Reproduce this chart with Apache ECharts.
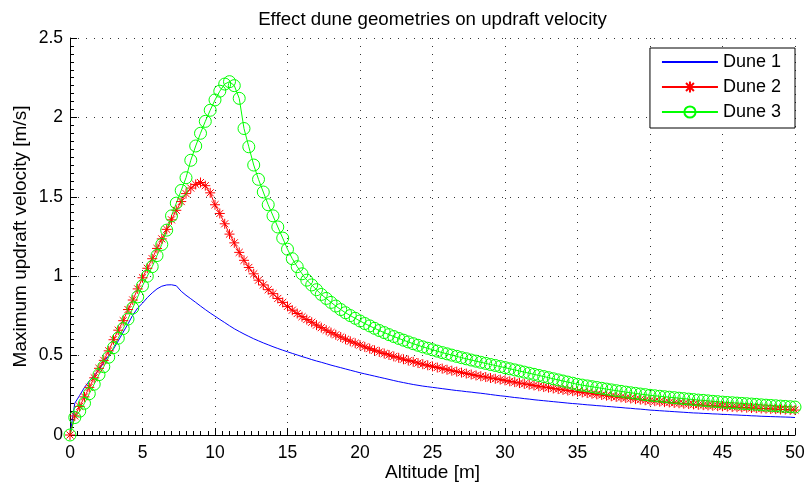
<!DOCTYPE html>
<html>
<head>
<meta charset="utf-8">
<script src="https://cdn.jsdelivr.net/npm/echarts@6/dist/echarts.min.js"></script>
<style>
html,body{margin:0;padding:0;background:#fff;}
#chart{width:806px;height:483px;}
</style>
</head>
<body>
<div id="chart"></div>
<script>
const chartTitle = 'Effect dune geometries on updraft velocity';
const xName = 'Altitude [m]';
const yName = 'Maximum updraft velocity [m/s]';
const seriesNames = ['Dune 1', 'Dune 2', 'Dune 3'];

const altitude = [
0,0.33,0.67,1,1.33,1.67,2,2.33,2.67,3,3.33,3.67,4,4.33,4.67,
5,5.33,5.67,6,6.33,6.67,7,7.33,7.67,8,8.33,8.67,9,9.33,9.67,
10,10.33,10.67,11,11.33,11.67,12,12.33,12.67,13,13.33,13.67,14,14.33,14.67,
15,15.33,15.67,16,16.33,16.67,17,17.33,17.67,18,18.33,18.67,19,19.33,19.67,
20,20.33,20.67,21,21.33,21.67,22,22.33,22.67,23,23.33,23.67,24,24.33,24.67,
25,25.33,25.67,26,26.33,26.67,27,27.33,27.67,28,28.33,28.67,29,29.33,29.67,
30,30.33,30.67,31,31.33,31.67,32,32.33,32.67,33,33.33,33.67,34,34.33,34.67,
35,35.33,35.67,36,36.33,36.67,37,37.33,37.67,38,38.33,38.67,39,39.33,39.67,
40,40.33,40.67,41,41.33,41.67,42,42.33,42.67,43,43.33,43.67,44,44.33,44.67,
45,45.33,45.67,46,46.33,46.67,47,47.33,47.67,48,48.33,48.67,49,49.33,49.67,
50];

const dune1 = [
0,0.2,0.25,0.3,0.34,0.375,0.41,0.457,0.5,0.542,0.593,0.648,0.7,0.755,0.8,
0.83,0.865,0.895,0.92,0.937,0.945,0.946,0.94,0.905,0.88,0.858,0.835,0.812,0.79,0.768,
0.748,0.728,0.708,0.688,0.669,0.652,0.636,0.621,0.606,0.593,0.58,0.568,0.556,0.545,0.534,
0.524,0.514,0.504,0.494,0.485,0.475,0.466,0.458,0.449,0.44,0.432,0.424,0.416,0.408,0.4,
0.392,0.385,0.378,0.371,0.364,0.357,0.35,0.343,0.336,0.33,0.324,0.318,0.313,0.308,0.304,
0.3,0.296,0.292,0.288,0.284,0.28,0.277,0.273,0.27,0.266,0.263,0.259,0.255,0.251,0.247,
0.244,0.24,0.236,0.233,0.229,0.226,0.222,0.219,0.216,0.213,0.21,0.207,0.204,0.201,0.198,
0.196,0.193,0.19,0.188,0.185,0.183,0.18,0.178,0.175,0.173,0.17,0.168,0.165,0.163,0.16,
0.157,0.155,0.153,0.151,0.149,0.147,0.145,0.143,0.141,0.139,0.138,0.136,0.135,0.133,0.132,
0.13,0.129,0.127,0.126,0.124,0.123,0.121,0.12,0.118,0.117,0.116,0.115,0.114,0.113,0.112,
0.11];

const dune2 = [
0,0.12,0.18,0.24,0.3,0.36,0.42,0.47,0.53,0.6,0.66,0.72,0.79,0.85,0.92,
0.99,1.05,1.11,1.175,1.235,1.295,1.355,1.415,1.47,1.52,1.555,1.578,1.59,1.57,1.525,
1.45,1.395,1.33,1.265,1.21,1.15,1.1,1.055,1.015,0.975,0.945,0.915,0.89,0.86,0.835,
0.81,0.786,0.765,0.745,0.727,0.71,0.692,0.676,0.66,0.645,0.631,0.617,0.603,0.59,0.578,
0.566,0.555,0.544,0.533,0.523,0.513,0.504,0.495,0.486,0.477,0.469,0.461,0.453,0.446,0.439,
0.432,0.425,0.418,0.411,0.405,0.399,0.393,0.387,0.381,0.375,0.37,0.365,0.359,0.354,0.349,
0.344,0.338,0.333,0.327,0.322,0.317,0.312,0.307,0.302,0.298,0.293,0.289,0.284,0.28,0.276,
0.272,0.268,0.264,0.26,0.256,0.252,0.248,0.244,0.24,0.237,0.233,0.23,0.226,0.223,0.219,
0.216,0.213,0.21,0.207,0.205,0.202,0.2,0.197,0.195,0.193,0.19,0.188,0.186,0.184,0.182,
0.181,0.179,0.177,0.175,0.174,0.172,0.17,0.169,0.167,0.166,0.164,0.163,0.161,0.16,0.158,
0.157];

const dune3 = [
0,0.11,0.15,0.2,0.26,0.32,0.38,0.43,0.49,0.55,0.61,0.67,0.73,0.8,0.87,
0.94,1.0,1.06,1.13,1.2,1.29,1.38,1.46,1.54,1.62,1.73,1.82,1.9,1.975,2.045,
2.11,2.165,2.21,2.225,2.2,2.12,1.93,1.815,1.7,1.61,1.53,1.45,1.38,1.31,1.24,
1.17,1.11,1.06,1.015,0.975,0.945,0.915,0.885,0.86,0.835,0.812,0.79,0.77,0.752,0.735,
0.718,0.702,0.687,0.672,0.658,0.645,0.632,0.62,0.608,0.597,0.586,0.575,0.565,0.555,0.546,
0.537,0.528,0.519,0.511,0.503,0.495,0.487,0.48,0.472,0.465,0.458,0.451,0.444,0.438,0.431,
0.424,0.417,0.41,0.403,0.396,0.389,0.382,0.375,0.368,0.361,0.354,0.347,0.34,0.333,0.326,
0.319,0.314,0.309,0.304,0.299,0.294,0.289,0.284,0.279,0.275,0.27,0.266,0.262,0.258,0.254,
0.25,0.247,0.244,0.241,0.238,0.235,0.232,0.229,0.226,0.223,0.22,0.218,0.215,0.212,0.21,
0.207,0.205,0.203,0.201,0.199,0.197,0.195,0.193,0.19,0.188,0.186,0.184,0.182,0.18,0.178,
0.176];

const FONT = '"Liberation Sans", Arial, Helvetica, sans-serif';
const STAR = 'path://M0,-1L0,1M-1,0L1,0M-0.707,-0.707L0.707,0.707M-0.707,0.707L0.707,-0.707';

function pairs(ys) { return altitude.map((x, i) => [x, ys[i]]); }

const chart = echarts.init(document.getElementById('chart'), null, { renderer: 'canvas' });

const axisCommon = {
  type: 'value',
  nameLocation: 'middle',
  nameMoveOverlap: false,
  nameTextStyle: { color: '#000', fontSize: 19, fontFamily: FONT },
  axisLine: { show: true, onZero: false, lineStyle: { color: '#000', width: 1 } },
  axisTick: { show: true, inside: true, length: 7, lineStyle: { color: '#000', width: 1 } },
  minorTick: { show: true, splitNumber: 10, length: 4, lineStyle: { color: '#000', width: 1 } },
  axisLabel: { color: '#000', fontSize: 17.5, fontFamily: FONT },
  splitLine: { show: true, lineStyle: { color: '#333', width: 1, type: [1, 7] } },
  minorSplitLine: { show: false }
};

const option = {
  animation: false,
  backgroundColor: '#ffffff',
  title: {
    text: chartTitle,
    left: 432.5,
    textAlign: 'center',
    top: 7,
    padding: [3, 0, 3, 0],
    textStyle: { color: '#000', fontSize: 18.7, fontWeight: 'normal', fontFamily: FONT }
  },
  grid: { left: 70, right: 11, top: 38, bottom: 48, containLabel: false, outerBoundsMode: 'none' },
  legend: {
    orient: 'vertical',
    right: 11,
    top: 48,
    padding: [5, 14, 7, 11],
    itemWidth: 56,
    itemHeight: 14,
    itemGap: 7,
    backgroundColor: '#fff',
    borderColor: '#000',
    borderWidth: 1,
    borderRadius: 0,
    textStyle: { color: '#000', fontSize: 18, fontFamily: FONT, lineHeight: 18 },
    data: seriesNames
  },
  xAxis: Object.assign({}, axisCommon, {
    min: 0, max: 50, interval: 5,
    name: xName, nameGap: 28,
    axisLabel: Object.assign({}, axisCommon.axisLabel, { margin: 9 })
  }),
  yAxis: Object.assign({}, axisCommon, {
    min: 0, max: 2.5, interval: 0.5,
    name: yName, nameGap: 40,
    axisLabel: Object.assign({}, axisCommon.axisLabel, { margin: 7 })
  }),
  series: [
    {
      name: seriesNames[0], type: 'line', data: pairs(dune1),
      symbol: 'none', showSymbol: false,
      lineStyle: { color: '#0000ff', width: 1 },
      itemStyle: { color: 'rgba(0,0,0,0)', borderWidth: 0 },
      emphasis: { disabled: true }
    },
    {
      name: seriesNames[1], type: 'line', data: pairs(dune2),
      symbol: STAR, symbolSize: 10,
      lineStyle: { color: '#ff0000', width: 1 },
      itemStyle: { color: 'rgba(0,0,0,0)', borderColor: '#ff0000', borderWidth: 1 },
      emphasis: { disabled: true }
    },
    {
      name: seriesNames[2], type: 'line', data: pairs(dune3),
      symbol: 'circle', symbolSize: 12,
      lineStyle: { color: '#00ff00', width: 1 },
      itemStyle: { color: 'rgba(0,0,0,0)', borderColor: '#00ff00', borderWidth: 1 },
      emphasis: { disabled: true }
    }
  ]
};

chart.setOption(option);
</script>
</body>
</html>
